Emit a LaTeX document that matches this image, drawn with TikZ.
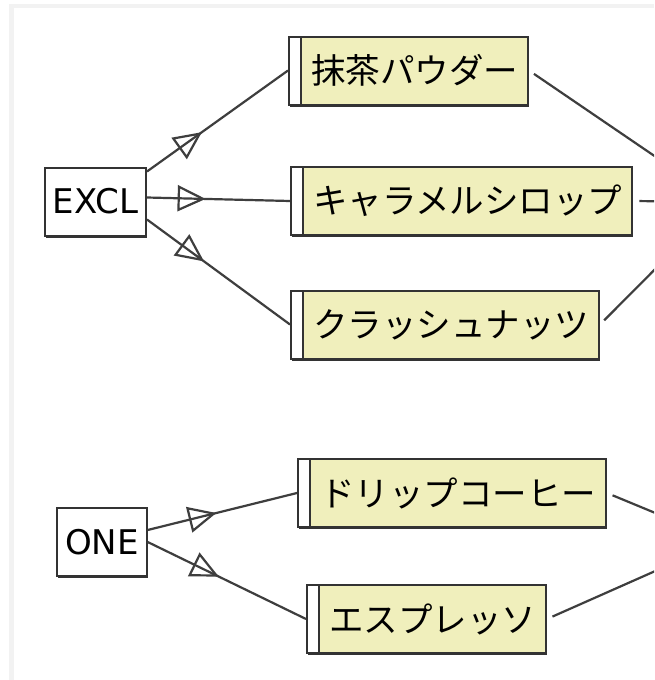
\documentclass[tikz,border=0pt]{standalone}
\usepackage{fontspec}
\setmainfont{DejaVu Sans}
\newfontfamily\jpfont{Noto Sans CJK JP}
\usetikzlibrary{arrows.meta,decorations.markings,shadows,positioning}

\definecolor{boxyellow}{RGB}{240,239,188}
\definecolor{edgegray}{RGB}{62,62,62}

\begin{document}
\begin{tikzpicture}[x=0.5pt,y=-0.5pt]
	\tikzset{
		box/.style={draw=black!80,line width=1pt,fill=white,anchor=west,
			font=\fontsize{17}{20}\selectfont,minimum height=34pt,inner xsep=4pt,
			drop shadow={shadow xshift=0.5pt,shadow yshift=-1pt,fill=black!80,opacity=1}},
		item/.style={box,fill=boxyellow,font=\fontsize{17.25}{20}\jpfont,inner xsep=5pt,
			execute at begin node={\hspace*{6pt}},
			path picture={
				\fill[white] (path picture bounding box.south west) rectangle ([xshift=6pt]path picture bounding box.north west);
				\draw[black!80,line width=0.6pt] ([xshift=6pt]path picture bounding box.south west) -- ([xshift=6pt]path picture bounding box.north west);}},
		link/.style={draw=edgegray,line width=1.1pt},
		flow/.style={link,postaction={decorate},
			decoration={markings,mark=at position #1 with {\arrow[line width=1.1pt]{Triangle[open,length=14pt,width=13pt]}}}}
	}
	\clip (0,0) rectangle (654,680);
	\fill[black!5] (9,4) rectangle (654,680);
	\fill[white] (14,8) rectangle (654,680);

	\node[box] (excl) at (44,201.5) {EXCL};
	\node[box] (one) at (56,542) {ONE};
	\node[item] (t1) at (288,70.5) {抹茶パウダー};
	\node[item] (t2) at (290,201) {キャラメルシロップ};
	\node[item] (t3) at (290,324.5) {クラッシュナッツ};
	\node[item] (t4) at (297,493) {ドリップコーヒー};
	\node[item] (t5) at (306,619) {エスプレッソ};

	%% off-picture targets
	\coordinate (mixA) at (722,202);
	\coordinate (mixB) at (723,541);

	\draw[flow=0.39] ([yshift=15pt]excl.east) -- (t1.west);
	\draw[flow=0.41] ([yshift=2pt]excl.east) -- (t2.west);
	\draw[flow=0.40] ([yshift=-9pt]excl.east) -- (t3.west);
	\draw[flow=0.46] ([yshift=6pt]one.east) -- (t4.west);
	\draw[flow=0.45] (one.east) -- (t5.west);

	\draw[link,shorten <=3pt] (t1.east) -- (mixA);
	\draw[link,shorten <=3pt] (t2.east) -- (mixA);
	\draw[link,shorten <=3pt] (t3.east) -- (mixA);
	\draw[link,shorten <=3pt] (t4.east) -- (mixB);
	\draw[link,shorten <=3pt] (t5.east) -- (mixB);
\end{tikzpicture}
\end{document}
